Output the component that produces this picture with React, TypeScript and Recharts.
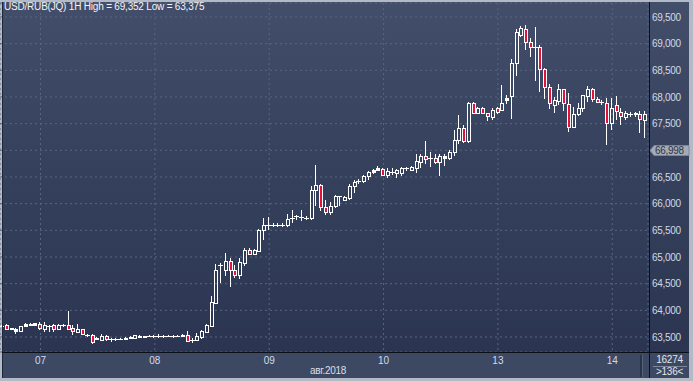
import React from "react";
import { ComposedChart, Bar, XAxis, YAxis, CartesianGrid, ReferenceLine } from "recharts";

// hourly USD/RUB candles, 06.08 16:00 .. 14.08 07:00
const opens = [
  63700, 63720, 63660, 63656, 63606, 63700, 63720, 63725, 63750, 63656,
  63706, 63719, 63656, 63719, 63719, 63675, 63600, 63644, 63544, 63540,
  63470, 63440, 63510, 63460, 63460, 63465, 63455, 63480, 63490, 63525,
  63495, 63515, 63515, 63515, 63512, 63515, 63512, 63512, 63513, 63530,
  63437, 63450, 63506, 63595, 63709, 64146, 64848, 64760, 64930, 64760,
  64658, 64886, 65139, 65063, 65110, 65512, 65606, 65600, 65600, 65600,
  65600, 65731, 65762, 65744, 65731, 65725, 66250, 66350, 65937, 65844,
  65950, 66137, 66075, 66106, 66337, 66425, 66419, 66512, 66594, 66637,
  66656, 66540, 66600, 66581, 66581, 66662, 66631, 66662, 66787, 66887,
  66850, 66850, 66787, 66900, 66856, 66975, 67187, 67425, 67175, 67894,
  67694, 67800, 67694, 67625, 67800, 67750, 67937, 68019, 68631, 69162,
  69269, 69037, 68944, 68931, 68519, 68181, 67850, 67931, 68144, 67869,
  67444, 67675, 67787, 68019, 68144, 67956, 67912, 67894, 67519, 67850,
  67712, 67630, 67675, 67680, 67675, 67560,
];
const highs = [
  63720, 63744, 63670, 63670, 63712, 63760, 63756, 63770, 63780, 63781,
  63731, 63750, 63750, 63750, 63981, 63719, 63750, 63656, 63562, 63560,
  63500, 63560, 63530, 63480, 63480, 63485, 63500, 63510, 63545, 63540,
  63520, 63540, 63545, 63550, 63535, 63545, 63545, 63535, 63550, 63620,
  63481, 63570, 63632, 63753, 64260, 64873, 64886, 65070, 64987, 64842,
  64987, 65177, 65177, 65152, 65525, 65731, 65744, 65631, 65631, 65631,
  65812, 65875, 65794, 65875, 65760, 66325, 66731, 66360, 66075, 66025,
  66169, 66150, 66137, 66375, 66437, 66462, 66544, 66606, 66650, 66700,
  66669, 66675, 66662, 66644, 66687, 66687, 66710, 66925, 66925, 67175,
  66969, 66925, 66937, 66937, 67000, 67375, 67656, 67469, 67912, 67912,
  67812, 67812, 67706, 67787, 67812, 68225, 68037, 68706, 69269, 69340,
  69352, 69100, 69306, 68975, 68537, 68244, 67994, 68244, 68150, 68081,
  67806, 67894, 68037, 68206, 68162, 67994, 67944, 67975, 67975, 68019,
  67800, 67737, 67725, 67725, 67737, 67737,
];
const lows = [
  63690, 63631, 63640, 63562, 63594, 63690, 63710, 63715, 63640, 63594,
  63594, 63600, 63625, 63688, 63640, 63531, 63590, 63531, 63500, 63375,
  63460, 63430, 63420, 63400, 63430, 63440, 63440, 63470, 63480, 63490,
  63485, 63495, 63490, 63485, 63490, 63495, 63480, 63495, 63495, 63405,
  63380, 63430, 63456, 63576, 63690, 64140, 64506, 64640, 64430, 64608,
  64582, 64835, 65038, 65038, 65090, 65325, 65512, 65569, 65569, 65569,
  65562, 65637, 65700, 65675, 65700, 65700, 65950, 65856, 65794, 65794,
  65919, 65950, 66050, 66075, 66200, 66369, 66387, 66437, 66562, 66606,
  66525, 66490, 66537, 66487, 66519, 66612, 66610, 66581, 66675, 66737,
  66687, 66737, 66519, 66712, 66812, 66894, 67112, 67137, 67144, 67675,
  67675, 67675, 67550, 67562, 67675, 67737, 67875, 67581, 68394, 69131,
  68881, 68756, 68306, 68100, 67956, 67769, 67706, 67850, 67744, 67350,
  67431, 67644, 67725, 67912, 67912, 67894, 67850, 67100, 67381, 67569,
  67475, 67569, 67631, 67631, 67319, 67237,
];
const closes = [
  63710, 63656, 63650, 63619, 63700, 63744, 63744, 63756, 63669, 63719,
  63706, 63656, 63719, 63719, 63656, 63612, 63656, 63550, 63544, 63410,
  63490, 63520, 63460, 63460, 63460, 63465, 63485, 63500, 63530, 63495,
  63510, 63515, 63515, 63515, 63512, 63515, 63512, 63512, 63530, 63430,
  63437, 63513, 63607, 63721, 64152, 64760, 64848, 64930, 64760, 64665,
  64899, 65139, 65063, 65127, 65512, 65606, 65606, 65600, 65600, 65600,
  65712, 65731, 65762, 65744, 65731, 66262, 66350, 65937, 65850, 65962,
  66144, 66137, 66125, 66337, 66406, 66425, 66525, 66600, 66637, 66669,
  66544, 66612, 66600, 66625, 66662, 66662, 66687, 66800, 66887, 66844,
  66850, 66787, 66900, 66862, 66975, 67200, 67425, 67175, 67894, 67694,
  67800, 67694, 67644, 67750, 67725, 67894, 67987, 68644, 69225, 69287,
  69037, 68931, 68944, 68519, 68181, 67881, 67944, 68144, 67881, 67444,
  67675, 67787, 68037, 68144, 67956, 67912, 67912, 67519, 67787, 67744,
  67650, 67700, 67675, 67700, 67580, 67675,
];

const dayIdx = [8, 32, 56, 80, 104, 128];
const dayLabels = ["07", "08", "09", "10", "13", "14"];
const priceTicks = [63500, 64000, 64500, 65000, 65500, 66000, 66500, 67000, 67500, 68000, 68500, 69000, 69500];
const title = "USD/RUB(JQ) 1H High = 69,352 Low = 63,375";
const monthLabel = "авг.2018";
const lastPrice = 66998;
const totalBars = "16274";
const shownBars = ">136<";

const data = opens.map((o, i) => ({
  idx: i,
  open: o,
  high: highs[i],
  low: lows[i],
  close: closes[i],
}));

const FONT = '"Liberation Sans", Arial, sans-serif';
const fmt = (v: number) => v.toLocaleString("en-US");

const Candle = (props: any) => {
  const { x, y, width, height, payload } = props;
  if (x == null || !payload) return null;
  const { open, close, high, low } = payload;
  const top = Math.min(y, y + height);
  const h = Math.abs(height);
  const k = high !== low ? h / (high - low) : 0;
  const yOf = (v: number) => top + (high - v) * k;
  const cx = Math.round(x + width / 2);
  const wx = cx - 0.5;
  const yH = Math.round(yOf(high));
  const yL = Math.round(yOf(low));
  const bTop = Math.round(yOf(Math.max(open, close)));
  const bBot = Math.round(yOf(Math.min(open, close)));
  const down = close < open;
  return (
    <g>
      {bTop > yH && <line x1={wx} x2={wx} y1={yH} y2={bTop} stroke="#fff" strokeWidth={1} />}
      {yL > bBot && <line x1={wx} x2={wx} y1={bBot} y2={yL} stroke="#fff" strokeWidth={1} />}
      {bBot - bTop < 1 ? (
        <rect x={cx - 3} y={bTop} width={5} height={1} fill="#fff" />
      ) : bBot - bTop <= 2 ? (
        <rect x={cx - 2} y={bTop} width={4} height={bBot - bTop + 1} fill="#fff" />
      ) : (
        <rect
          x={cx - 1.5}
          y={bTop + 0.5}
          width={3}
          height={bBot - bTop}
          fill={down ? "#e3123c" : "none"}
          stroke="#fff"
          strokeWidth={1}
        />
      )}
    </g>
  );
};

const PriceTick = (p: any) => {
  const v = p.payload.value;
  if (Math.abs(v - lastPrice) < 200) return <g />;
  return (
    <text x={p.x} y={p.y} dy="0.355em" fill="#d3d9e3" fontSize={10} fontFamily={FONT} letterSpacing={-0.3} textAnchor="start">
      {fmt(v)}
    </text>
  );
};

const PriceTag = (p: any) => {
  const vb = p.viewBox;
  if (!vb) return null;
  const x0 = vb.x + vb.width + 2;
  const yy = Math.round(vb.y);
  const pts = `${x0},${yy + 0.5} ${x0 + 4},${yy - 4.5} ${x0 + 39},${yy - 4.5} ${x0 + 39},${yy + 5.5} ${x0 + 4},${yy + 5.5}`;
  return (
    <g>
      <polygon points={pts} fill="#a3abb8" stroke="#7c8596" strokeWidth={1} />
      <text x={x0 + 5} y={yy + 4} fill="#2f3340" fontSize={10} fontFamily={FONT} letterSpacing={-0.3}>
        {fmt(lastPrice)}
      </text>
    </g>
  );
};

const abs = (l: number, t: number, w: number, h: number, bg: string): React.CSSProperties => ({
  position: "absolute",
  left: l,
  top: t,
  width: w,
  height: h,
  background: bg,
});

const GRAD = "linear-gradient(to bottom, #434f6a 0%, #36425d 45%, #2b3551 100%)";

export default function App() {
  return (
    <div style={{ position: "absolute", left: 0, top: 0, width: 693, height: 381, background: "#b1bac6", fontFamily: FONT, overflow: "hidden" }}>
      <div style={abs(3, 2, 646, 350, GRAD)} />
      <div style={abs(650, 2, 39, 350, GRAD)} />
      <div style={abs(3, 353, 646, 25, "#3d4862")} />
      <div style={abs(650, 353, 39, 25, "#3d4862")} />
      <div style={{ position: "absolute", left: 0, top: 0 }}>
        <ComposedChart width={693} height={381} data={data} margin={{ top: 3, right: 0, bottom: 0, left: 0 }}>
          <CartesianGrid stroke="#5a6681" strokeDasharray="2 3" />
          <XAxis
            dataKey="idx"
            type="category"
            ticks={dayIdx}
            interval={0}
            height={29}
            axisLine={false}
            tickLine={false}
            tickSize={0}
            tickMargin={5}
            tickFormatter={(v: number) => dayLabels[dayIdx.indexOf(v)] ?? ""}
            tick={{ fill: "#cfdcf0", fontSize: 10, fontFamily: FONT }}
          />
          <YAxis
            orientation="right"
            type="number"
            width={45}
            domain={[63219, 69762]}
            allowDataOverflow
            ticks={priceTicks}
            interval={0}
            axisLine={false}
            tickLine={false}
            tickSize={0}
            tickMargin={4}
            tick={<PriceTick />}
          />
          <Bar
            dataKey={(d: any) => [d.low, d.high]}
            barSize={4}
            shape={<Candle />}
            isAnimationActive={false}
          />
          <ReferenceLine y={lastPrice} stroke="none" label={<PriceTag />} />
        </ComposedChart>
      </div>
      <div style={abs(2, 2, 1, 376, "#1f2636")} />
      <div style={abs(649, 2, 1, 376, "#0b0f18")} />
      <div style={abs(2, 352, 687, 1, "#0b0f18")} />
      <div style={abs(640, 355, 2, 22, "#2b354a")} />
      <div style={abs(642, 355, 1, 22, "#56627a")} />
      <div style={abs(653, 366, 34, 1, "#7d879a")} />
      <div style={{ position: "absolute", left: 4, top: 2, fontSize: 10, lineHeight: "10px", color: "#f2f4f7", letterSpacing: -0.2, whiteSpace: "nowrap" }}>
        {title}
      </div>
      <div style={{ position: "absolute", left: 310, top: 366, fontSize: 10, lineHeight: "10px", color: "#d8dee8", letterSpacing: -0.3, whiteSpace: "nowrap" }}>
        {monthLabel}
      </div>
      <div style={{ position: "absolute", left: 650, width: 39, top: 355, fontSize: 10, lineHeight: "10px", color: "#e2e6ec", letterSpacing: -0.3, textAlign: "center" }}>
        {totalBars}
      </div>
      <div style={{ position: "absolute", left: 650, width: 39, top: 367, fontSize: 10, lineHeight: "10px", color: "#e2e6ec", letterSpacing: -0.3, textAlign: "center" }}>
        {shownBars}
      </div>
    </div>
  );
}
